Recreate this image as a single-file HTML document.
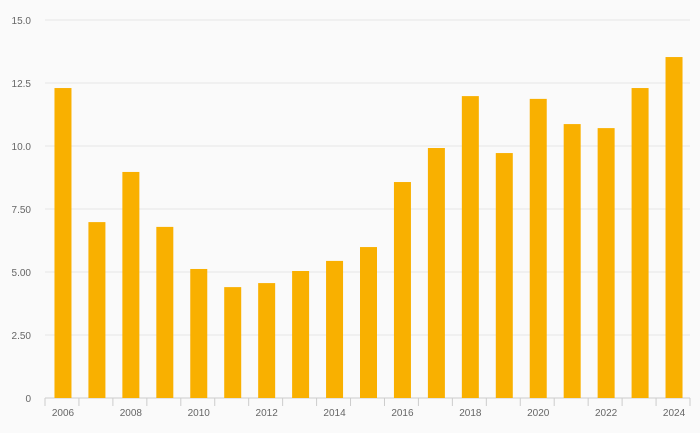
<!DOCTYPE html>
<html><head><meta charset="utf-8"><style>
body{margin:0;background:#fafafa;}
svg{display:block;font-family:"Liberation Sans",sans-serif;}
</style></head><body>
<svg id="chart" width="700" height="433"></svg>
<script>
const years=[2006,2007,2008,2009,2010,2011,2012,2013,2014,2015,2016,2017,2018,2019,2020,2021,2022,2023,2024];
const values=[12.3,6.98,8.97,6.79,5.12,4.4,4.56,5.04,5.44,5.99,8.57,9.92,11.98,9.72,11.87,10.87,10.71,12.3,13.53];
const yTicks=[0,2.5,5,7.5,10,12.5,15];
const yTickLabels=["0","2.50","5.00","7.50","10.0","12.5","15.0"];
const svg=document.getElementById('chart');
const NS='http://www.w3.org/2000/svg';
const L=45,R=690,T=20,B=398,yMax=15;
const slot=(R-L)/years.length;
const y=v=>B-(v/yMax)*(B-T);
const x=i=>L+slot*i;
function mk(tag,attrs){const e=document.createElementNS(NS,tag);for(const k in attrs)e.setAttribute(k,attrs[k]);svg.appendChild(e);return e;}
yTicks.forEach((t,i)=>{
  const g=mk('line',{x1:L,x2:R,y1:y(t),y2:y(t),stroke:t===0?'#ccc':'#e6e6e6','stroke-width':1});
  
  
  const tx=mk('text',{x:31,y:y(t)+4,'text-anchor':'end','font-size':10,fill:'#666'});
  tx.textContent=yTickLabels[i];
  
  
});
years.forEach((yr,i)=>{
  const b=mk('rect',{x:x(i)+slot/2-7.5,y:y(values[i]),width:17,height:B-y(values[i]),fill:'#f9b000'});
  
  
  const tk=mk('line',{x1:x(i),x2:x(i),y1:B,y2:B+8,stroke:'#ccc'});
  
  
  if(i%2===0){
    const tx=mk('text',{x:x(i)+slot/2+1,y:B+18,'text-anchor':'middle','font-size':10,fill:'#666'});
    tx.textContent=yr;
    
    
  }
});
const lt=mk('line',{x1:R,x2:R,y1:B,y2:B+8,stroke:'#ccc'});


</script>
</body></html>
